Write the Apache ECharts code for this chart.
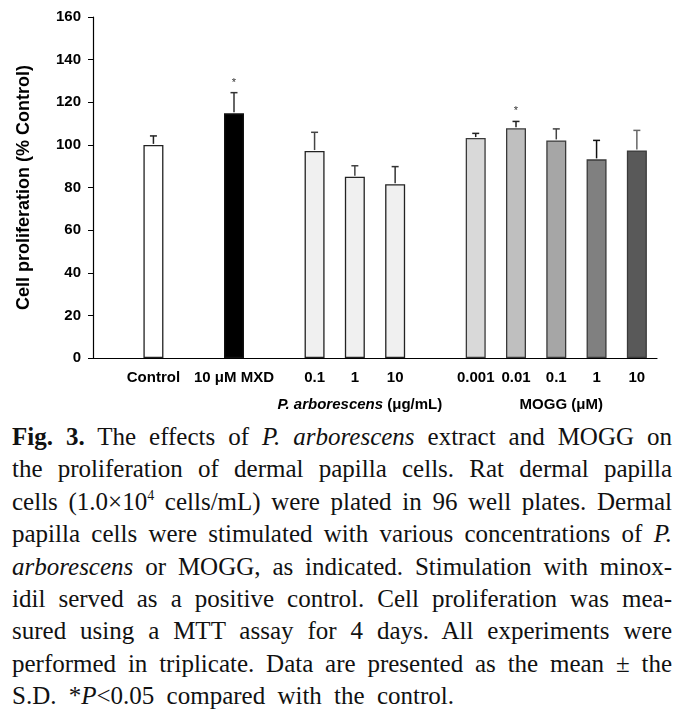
<!DOCTYPE html>
<html>
<head>
<meta charset="utf-8">
<script src="https://cdn.jsdelivr.net/npm/echarts@6/dist/echarts.min.js"></script>
<style>
  html, body { margin: 0; padding: 0; background: #fff; }
  #chart { position: absolute; left: 0; top: 0; width: 681px; height: 420px; }
  #caption { position: absolute; left: 12px; top: 421px; width: 660px;
    font-family: "Liberation Serif", "Times New Roman", serif; font-size: 25px;
    line-height: 32.4px; color: #111; }
  #caption div { text-align: justify; text-align-last: justify; white-space: nowrap; }
  #caption div.last { text-align-last: left; word-spacing: 6px; }
  sup { font-size: 14px; line-height: 0; vertical-align: 10px; }
</style>
</head>
<body>
<div id="chart"></div>
<div id="caption">
  <div><b>Fig. 3.</b> The effects of <i>P. arborescens</i> extract and MOGG on</div>
  <div>the proliferation of dermal papilla cells. Rat dermal papilla</div>
  <div>cells (1.0×10<sup>4</sup> cells/mL) were plated in 96 well plates. Dermal</div>
  <div>papilla cells were stimulated with various concentrations of <i>P.</i></div>
  <div><i>arborescens</i> or MOGG, as indicated. Stimulation with minox-</div>
  <div>idil served as a positive control. Cell proliferation was mea-</div>
  <div>sured using a MTT assay for 4 days. All experiments were</div>
  <div>performed in triplicate. Data are presented as the mean ± the</div>
  <div class="last">S.D. *<i>P</i>&lt;0.05 compared with the control.</div>
</div>
<script>
// ---- data ----
const categories = ['', 'Control', '', '10 μM MXD', '', '0.1', '1', '10', '', '0.001', '0.01', '0.1', '1', '10'];
const means      = [null, 100, null, 114.8, null, 97.1, 85.1, 81.5, null, 103.2, 107.8, 102.1, 93.2, 97.4];
const sds        = [null, 4.2, null, 9.7, null, 8.8, 5.1, 8.3, null, 2.2, 3.2, 5.4, 8.9, 9.4];
const significant= [false, false, false, true, false, false, false, false, false, false, true, false, false, false];
const yTicks     = [0, 20, 40, 60, 80, 100, 120, 140, 160];
const groupLabels = [
  { text: 'P. arborescens', unit: ' (μg/mL)', italic: true, groupIndex: 6 },
  { text: 'MOGG', unit: ' (μM)', italic: false, groupIndex: 11 }
];
// ---- styles ----
const barColors = [null, '#ffffff', null, '#000000', null, '#f0f0f0', '#f0f0f0', '#f0f0f0', null,
                   '#d9d9d9', '#bfbfbf', '#a6a6a6', '#808080', '#595959'];
const barBorders = [null, '#222', null, '#111', null, '#222', '#222', '#222', null,
                    '#3a3a3a', '#3a3a3a', '#3a3a3a', '#3a3a3a', '#3a3a3a'];
const errColors = [null, '#222', null, '#333', null, '#444', '#444', '#333', null,
                   '#222', '#222', '#444', '#111', '#666'];

const chart = echarts.init(document.getElementById('chart'), null, { renderer: 'canvas' });
const FONT = '"Liberation Sans", Arial, sans-serif';

const barData = means.map((v, i) => v == null ? null : ({
  value: v,
  itemStyle: { color: barColors[i], borderColor: barBorders[i], borderWidth: 1.3 }
}));
const errData = [];
means.forEach((v, i) => { if (v != null) errData.push([i, v, sds[i], significant[i] ? 1 : 0]); });

chart.setOption({
  animation: false,
  grid: { left: 93, right: 24, top: 17, bottom: 62, containLabel: false },
  xAxis: {
    type: 'category',
    data: categories,
    axisLine: { lineStyle: { color: '#000', width: 1.2 } },
    axisTick: { show: false },
    axisLabel: { interval: 0, margin: 12, color: '#000', fontFamily: FONT, fontWeight: 'bold', fontSize: 15 }
  },
  yAxis: {
    type: 'value', min: yTicks[0], max: yTicks[yTicks.length - 1], interval: 20,
    name: 'Cell proliferation (% Control)',
    nameLocation: 'middle', nameGap: 60,
    nameTextStyle: { color: '#000', fontFamily: FONT, fontWeight: 'bold', fontSize: 18 },
    axisLine: { show: true, lineStyle: { color: '#000', width: 1.2 } },
    axisTick: { show: true, length: 5, lineStyle: { color: '#000' } },
    splitLine: { show: false },
    axisLabel: { margin: 12, color: '#000', fontFamily: FONT, fontWeight: 'bold', fontSize: 15 }
  },
  series: [
    { type: 'bar', data: barData, barWidth: 20, z: 2 },
    {
      type: 'custom', z: 3, data: errData,
      renderItem: function (params, api) {
        const i = api.value(0), v = api.value(1), e = api.value(2), s = api.value(3);
        const base = api.coord([i, v]);
        const top = api.coord([i, v + e]);
        const col = errColors[i];
        const children = [
          { type: 'line', shape: { x1: base[0], y1: base[1] - 1, x2: top[0], y2: top[1] }, style: { stroke: col, lineWidth: 1.5 } },
          { type: 'line', shape: { x1: top[0] - 3.5, y1: top[1], x2: top[0] + 3.5, y2: top[1] }, style: { stroke: col, lineWidth: 1.5 } }
        ];
        if (s) {
          children.push({ type: 'text', style: { x: top[0], y: top[1] - 10, text: '*', fill: '#333', fontSize: 11, fontFamily: FONT, align: 'center', verticalAlign: 'middle' } });
        }
        return { type: 'group', children: children };
      }
    }
  ]
});

function addGroupLabels() {
  const els = groupLabels.map(g => {
    const px = chart.convertToPixel({ xAxisIndex: 0 }, g.groupIndex) + 5;
    return {
      type: 'text', x: px, y: 405,
      style: {
        text: '{a|' + g.text + '}{b|' + g.unit + '}',
        align: 'center', verticalAlign: 'middle',
        rich: {
          a: { fontFamily: FONT, fontWeight: 'bold', fontSize: 15, fontStyle: g.italic ? 'italic' : 'normal', fill: '#000' },
          b: { fontFamily: FONT, fontWeight: 'bold', fontSize: 15, fill: '#000' }
        }
      }
    };
  });
  chart.setOption({ graphic: els });
}
addGroupLabels();
</script>
</body>
</html>
